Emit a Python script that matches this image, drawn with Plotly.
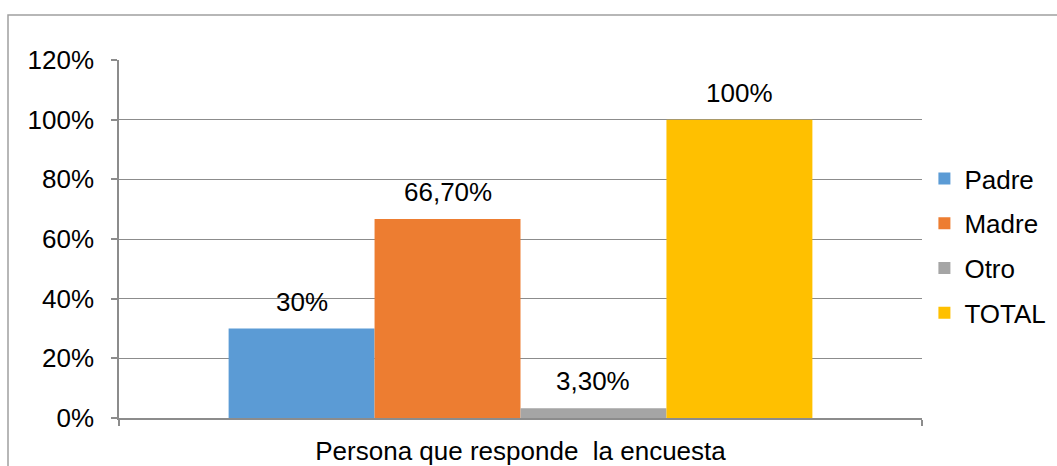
import plotly.graph_objects as go

category = ["Persona que responde  la encuesta"]
series = ["Padre", "Madre", "Otro", "TOTAL"]
values = [0.30, 0.667, 0.033, 1.00]
labels = ["30%", "66,70%", "3,30%", "100%"]
colors = ["#5B9BD5", "#ED7D31", "#A5A5A5", "#FFC000"]
yticks = [0, 0.2, 0.4, 0.6, 0.8, 1.0, 1.2]
yticktext = ["0%", "20%", "40%", "60%", "80%", "100%", "120%"]

FONT = "Liberation Sans, Arial, sans-serif"
FS = 26

W, H = 1057, 466
L, R, T, B = 119, 1057 - 922, 60, 466 - 418
pw, ph = W - L - R, H - T - B
BARGAP = 0.273
n = len(series)
barw_px = pw * (1 - BARGAP) / n

fig = go.Figure()
annotations = []
for i, (name, v, lab, c) in enumerate(zip(series, values, labels, colors)):
    fig.add_trace(go.Bar(
        x=category, y=[v], name=name, marker_color=c, marker_line_width=0,
        legendgroup=name, hoverinfo="name+y",
    ))
    annotations.append(dict(
        x=category[0], y=v, xref="x", yref="y", text=lab, showarrow=False,
        xanchor="center", yanchor="bottom", yshift=10,
        xshift=(i - (n - 1) / 2) * barw_px,
        font=dict(family=FONT, size=FS, color="#000000"),
    ))

fig.update_layout(
    width=W, height=H,
    margin=dict(l=L, r=R, t=T, b=B, autoexpand=False),
    paper_bgcolor="white", plot_bgcolor="white",
    barmode="group", bargap=BARGAP, bargroupgap=0,
    font=dict(family=FONT, size=FS, color="#000000"),
    showlegend=True,
    legend=dict(x=1.003, y=(418 - 246) / ph, xanchor="left", yanchor="middle",
                traceorder="grouped", tracegroupgap=8,
                font=dict(family=FONT, size=FS, color="#000000"),
                itemwidth=30, bgcolor="rgba(0,0,0,0)"),
    xaxis=dict(type="category", tickson="boundaries", ticks="outside", ticklen=6,
               tickcolor="#8c8c8c", tickwidth=1.5, showline=True, linecolor="#8c8c8c",
               linewidth=1.5, showgrid=False, ticklabelstandoff=9, automargin=False),
    yaxis=dict(range=[0, 1.2], tickvals=yticks, ticktext=yticktext, ticks="outside",
               ticklen=6, tickcolor="#8c8c8c", tickwidth=1.5, showline=True,
               linecolor="#8c8c8c", linewidth=1.5, showgrid=True, gridcolor="#8c8c8c",
               gridwidth=1, zeroline=False, ticklabelstandoff=12, automargin=False),
    annotations=annotations,
    shapes=[dict(type="rect", xref="paper", yref="paper",
                 x0=(8 - L) / pw, x1=(1070 - L) / pw,
                 y0=(418 - 480) / ph, y1=(418 - 15) / ph,
                 line=dict(color="#a0a0a0", width=1.5), fillcolor="rgba(0,0,0,0)", layer="below")],
)

fig.write_html(
    "out.html",
    config={"displayModeBar": False},
    post_script="document.body.style.margin='0';document.body.style.overflow='hidden';",
)
